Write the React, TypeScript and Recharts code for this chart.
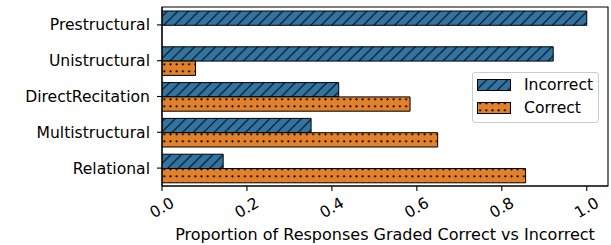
import React from 'react';
import { Bar, BarChart, Legend, ReferenceArea, XAxis, YAxis } from 'recharts';

const categories = ['Prestructural', 'Unistructural', 'DirectRecitation', 'Multistructural', 'Relational'];
const incorrect = [1.0, 0.921, 0.416, 0.351, 0.144];
const correct = [0.0, 0.079, 0.584, 0.649, 0.856];
const xTicks = [0, 0.2, 0.4, 0.6, 0.8, 1.0];
const xLabel = 'Proportion of Responses Graded Correct vs Incorrect';

const BLUE = '#3274a1';
const ORANGE = '#e1812c';
const FONT = "'DejaVu Sans', sans-serif";
const FS = 15.6;

const data = categories.map((name, i) => ({ name, Incorrect: incorrect[i], Correct: correct[i] }));

const Patterns: React.FC<{ prefix: string }> = ({ prefix }) => (
  <defs>
    <pattern id={`${prefix}-hatch`} patternUnits="userSpaceOnUse" width={10.5} height={10.5}>
      <rect width={10.5} height={10.5} fill={BLUE} />
      <path
        d="M0,10.5 L10.5,0 M-2.6,2.6 L2.6,-2.6 M7.9,13.1 L13.1,7.9"
        stroke="#000"
        strokeWidth={1}
      />
    </pattern>
    <pattern id={`${prefix}-dots`} patternUnits="userSpaceOnUse" width={6.2} height={7}>
      <rect width={6.2} height={7} fill={ORANGE} />
      <circle cx={3.1} cy={1.3} r={1.1} fill="#000" />
    </pattern>
  </defs>
);

const XTick = (props: any) => {
  const { x, y, payload } = props;
  const cy = y + 15;
  return (
    <text
      x={x}
      y={cy}
      textAnchor="middle"
      dominantBaseline="central"
      transform={`rotate(-30, ${x}, ${cy})`}
      fontSize={FS}
      fontFamily={FONT}
      fill="#000"
    >
      {Number(payload.value).toFixed(1)}
    </text>
  );
};

const LegendBox = () => {
  const items = [
    { label: 'Incorrect', fill: 'url(#lg-hatch)' },
    { label: 'Correct', fill: 'url(#lg-dots)' },
  ];
  return (
    <div
      style={{
        position: 'relative',
        width: 127,
        height: 51,
        boxSizing: 'border-box',
        border: '1px solid #cccccc',
        borderRadius: 3,
        background: 'rgba(255,255,255,0.8)',
        fontFamily: FONT,
        fontSize: FS,
        color: '#000',
      }}
    >
      {items.map((it, i) => (
        <React.Fragment key={it.label}>
          <svg
            width={34}
            height={12}
            style={{ position: 'absolute', left: 4, top: 6 + i * 23 }}
          >
            <Patterns prefix="lg" />
            <rect x={0.5} y={0.5} width={33} height={11} fill={it.fill} stroke="#000" strokeWidth={1} />
          </svg>
          <span
            style={{
              position: 'absolute',
              left: 51,
              top: 3 + i * 23,
              lineHeight: '18px',
              whiteSpace: 'nowrap',
            }}
          >
            {it.label}
          </span>
        </React.Fragment>
      ))}
    </div>
  );
};

export default function App() {
  return (
    <div style={{ position: 'fixed', left: 0, top: 0, width: 611, height: 245, background: '#fff' }}>
      <BarChart
        width={611}
        height={245}
        data={data}
        layout="vertical"
        margin={{ top: 7, right: 3, bottom: 0, left: 0 }}
        barGap={0}
      >
        <Patterns prefix="ch" />
        <XAxis
          type="number"
          domain={[0, 1.05]}
          ticks={xTicks}
          allowDataOverflow
          height={59}
          tickSize={5}
          tick={<XTick />}
          axisLine={{ stroke: '#000', strokeWidth: 1.1 }}
          tickLine={{ stroke: '#000', strokeWidth: 1.1 }}
          label={{
            value: xLabel,
            position: 'insideBottom',
            offset: 5,
            fontSize: 16,
            fontFamily: FONT,
            fill: '#000',
          }}
        />
        <YAxis
          type="category"
          dataKey="name"
          width={162}
          tickSize={5}
          tickMargin={7}
          tick={{ fontSize: FS, fontFamily: FONT, fill: '#000' }}
          axisLine={{ stroke: '#000', strokeWidth: 1.1 }}
          tickLine={{ stroke: '#000', strokeWidth: 1.1 }}
        />
        <Bar
          dataKey="Incorrect"
          fill="url(#ch-hatch)"
          stroke="#000"
          strokeWidth={1}
          barSize={14.3}
          isAnimationActive={false}
        />
        <Bar
          dataKey="Correct"
          fill="url(#ch-dots)"
          stroke="#000"
          strokeWidth={1}
          barSize={14.3}
          isAnimationActive={false}
        />
        <ReferenceArea
          x1={0}
          x2={1.05}
          y1={categories[0]}
          y2={categories[categories.length - 1]}
          fill="none"
          fillOpacity={0}
          stroke="#000"
          strokeWidth={1.1}
          ifOverflow="visible"
        />
        <Legend
          layout="horizontal"
          verticalAlign="middle"
          align="center"
          content={<LegendBox />}
          wrapperStyle={{ position: 'absolute', left: 472, top: 72, width: 'auto', height: 'auto' }}
        />
      </BarChart>
    </div>
  );
}
